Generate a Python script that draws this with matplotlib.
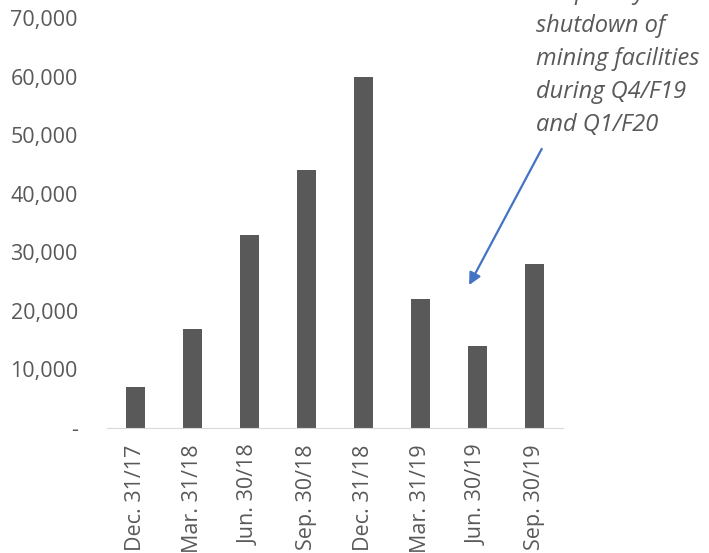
import matplotlib.pyplot as plt
from matplotlib.ticker import FuncFormatter

quarters = ["Dec. 31/17", "Mar. 31/18", "Jun. 30/18", "Sep. 30/18",
            "Dec. 31/18", "Mar. 31/19", "Jun. 30/19", "Sep. 30/19"]
values = [7000, 17000, 33000, 44000, 60000, 22000, 14000, 28000]
y_ticks = [0, 10000, 20000, 30000, 40000, 50000, 60000, 70000]

note = "temporary\nshutdown of\nmining facilities\nduring Q4/F19\nand Q1/F20"

grey = "#595959"
plt.rcParams["font.family"] = ["Open Sans", "DejaVu Sans"]

fig = plt.figure(figsize=(7.09, 5.53), dpi=100)
ax = fig.add_axes([0.151, 0.226, 0.643, 0.741])

x = range(len(quarters))
ax.bar(x, values, width=0.32, color=grey)

ax.set_xlim(-0.5, len(quarters) - 0.5)
ax.set_ylim(0, 70000)
ax.set_yticks(y_ticks)
ax.yaxis.set_major_formatter(FuncFormatter(lambda v, p: "-" if v == 0 else f"{int(v):,}"))
ax.set_xticks(list(x))
ax.set_xticklabels(quarters, rotation=90)

ax.tick_params(axis="both", length=0, labelsize=15.5, colors=grey)
ax.tick_params(axis="y", pad=21)
ax.tick_params(axis="x", pad=12)
for side in ["top", "right", "left"]:
    ax.spines[side].set_visible(False)
ax.spines["bottom"].set_color("#d9d9d9")

ax.annotate("", xy=(5.83, 24000), xytext=(7.15, 48100),
            arrowprops=dict(arrowstyle="-|>", color="#4472c4", lw=1.6,
                            mutation_scale=18), annotation_clip=False)

# the note runs off the top edge, as in the original
fig.text(536 / 709, 1 - 137 / 553, note, ha="left", va="bottom",
         fontsize=17, style="italic", color=grey, linespacing=1.5)

fig.savefig("out.png", dpi=100)
